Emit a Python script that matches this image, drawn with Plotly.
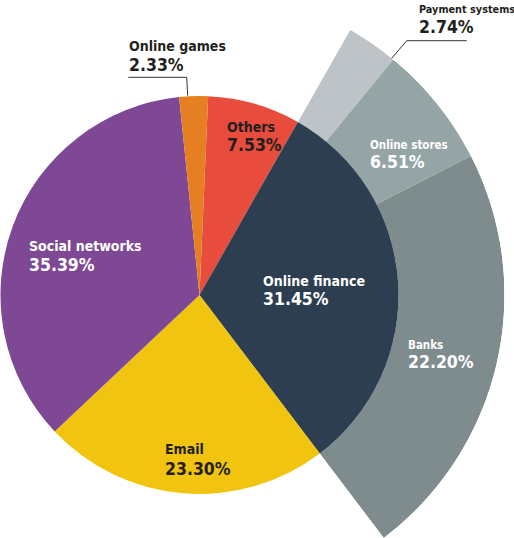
import math
import plotly.graph_objects as go

W, H = 514, 538

# main split, clockwise starting just right of 12 o'clock
labels = ["Others", "Online finance", "Email", "Social networks", "Online games"]
shares = [7.53, 31.45, 23.30, 35.39, 2.33]
colors = ["#e74c3c", "#2c3e50", "#f1c40f", "#7e4894", "#e67e22"]

# online finance broken down (outer ring), clockwise
fin_labels = ["Payment systems", "Online stores", "Banks"]
fin_shares = [2.74, 6.51, 22.20]
fin_colors = ["#bdc3c7", "#95a5a6", "#7f8c8d"]

# geometry in pixels
cx, cy = 199.5, 295
r_in, r_out = 199, 305
rotation = 2.5

FONT = "DejaVu Sans Condensed, Liberation Sans Narrow, sans-serif"

# ring angles (clockwise from north), taken from the pie slices
deg = 360 / sum(shares)
start = rotation + shares[0] * deg
theta, widths = [], []
a = start
for v in fin_shares:
    widths.append(v * deg)
    theta.append(a + v * deg / 2)
    a += v * deg
end = a

fig = go.Figure()

fig.add_trace(go.Pie(
    labels=labels, values=shares, sort=False, direction="clockwise",
    rotation=rotation, textinfo="none", hoverinfo="label+percent",
    marker=dict(colors=colors, line=dict(width=0)),
    domain=dict(x=[(cx - r_in) / W, (cx + r_in) / W],
                y=[1 - (cy + r_in) / H, 1 - (cy - r_in) / H]),
    showlegend=False,
))

fig.add_trace(go.Barpolar(
    r=[r_out - r_in] * len(fin_shares), base=r_in, theta=theta, width=widths,
    marker=dict(color=fin_colors, line=dict(width=0)),
    text=fin_labels, hoverinfo="text", showlegend=False,
))

# polar sector only covering the ring, so it can be bigger than the pie
s0, s1 = 90 - end, 90 - start
y_top = math.sin(math.radians(s1))
y_bot = math.sin(math.radians(s0))
fig.update_layout(polar=dict(
    sector=[s0, s1], hole=0,
    domain=dict(x=[cx / W, (cx + r_out) / W],
                y=[max(0, 1 - (cy - r_out * y_bot) / H), 1 - (cy - r_out * y_top) / H]),
    bgcolor="rgba(0,0,0,0)",
    radialaxis=dict(visible=False, range=[0, r_out]),
    angularaxis=dict(visible=False, direction="clockwise", rotation=90),
))

# label placement: left x, centre of name, centre of value, name size, colour
label_pos = {
    "Online games": (128, 44.5, 64, 14, "#231f20"),
    "Others": (226, 126, 144, 14, "#231f20"),
    "Social networks": (27.5, 244.5, 264, 14, "white"),
    "Online finance": (261.5, 279.5, 298, 14, "white"),
    "Email": (164, 448, 467.5, 14, "#231f20"),
    "Banks": (406.5, 343, 360.5, 11.5, "white"),
    "Online stores": (369, 143.5, 161, 11.5, "white"),
    "Payment systems": (417.5, 8.5, 26, 10.8, "#231f20"),
}
all_shares = dict(zip(labels + fin_labels, shares + fin_shares))
val_size = 17.5

for name, (x, yn, yv, ns, col) in label_pos.items():
    fig.add_annotation(x=x / W, y=1 - (yn - 0.565 * ns) / H, xref="paper", yref="paper",
                       text=name, showarrow=False, xanchor="left", yanchor="top",
                       font=dict(family=FONT, size=ns, color=col, weight=700), borderpad=0)
    fig.add_annotation(x=x / W, y=1 - (yv - 0.565 * val_size) / H, xref="paper", yref="paper",
                       text=f"{all_shares[name]:.2f}%", showarrow=False,
                       xanchor="left", yanchor="top",
                       font=dict(family=FONT, size=val_size, color=col, weight=700), borderpad=0)

# leader lines for the two thin slices
leaders = [
    [(128.3, 77.3), (186.7, 77.3), (187.7, 95.7)],
    [(466.7, 40.7), (406.7, 40.7), (391.7, 58.3)],
]
for pts in leaders:
    path = "M " + " L ".join(f"{px / W},{1 - py / H}" for px, py in pts)
    fig.add_shape(type="path", path=path, xref="paper", yref="paper",
                  line=dict(color="#333333", width=1))

fig.update_layout(
    width=W, height=H, margin=dict(l=0, r=0, t=0, b=0),
    paper_bgcolor="white", plot_bgcolor="white", template="none",
)

fig.write_html("out.html", config={"displayModeBar": False},
               post_script="document.body.style.margin='0';")
